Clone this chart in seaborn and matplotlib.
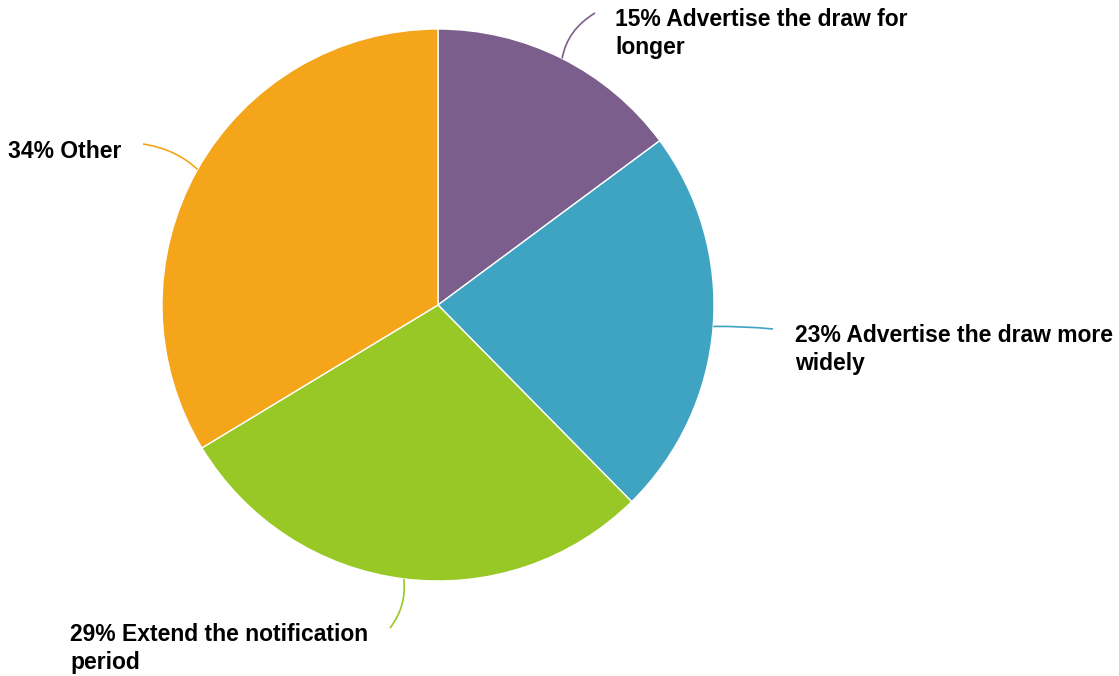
import numpy as np
import matplotlib
matplotlib.use("Agg")
import matplotlib.pyplot as plt
from matplotlib.path import Path
from matplotlib.patches import PathPatch
import seaborn as sns

# Survey responses
categories = ["Advertise the draw for\nlonger",
              "Advertise the draw more\nwidely",
              "Extend the notification\nperiod",
              "Other"]
shares = [15, 23, 29, 34]
colors = ["#7C5E8C", "#3FA3C2", "#97C826", "#F4A51A"]

sns.set_theme(style="white")
plt.rcParams["font.family"] = ["Liberation Sans", "DejaVu Sans"]

W, H = 1119, 676
fig = plt.figure(figsize=(W / 100, H / 100), dpi=100)
ax = fig.add_axes([0, 0, 1, 1])
ax.set_xlim(0, W)
ax.set_ylim(0, H)
ax.set_aspect("equal")
ax.axis("off")

cx, cy, r = 438, H - 305, 276
wedges, _ = ax.pie(shares, colors=colors, startangle=90, counterclock=False,
                   center=(cx, cy), radius=r,
                   wedgeprops=dict(edgecolor="white", linewidth=1))
ax.set_xlim(0, W)
ax.set_ylim(0, H)

# Label placement: text anchor (left, top), leader end point, bezier control point
label_pos = [(615, 8), (795, 324), (70, 623), (8, 140)]
leader_end = [(595, 13), (773, 329), (390, 628), (143, 144)]
leader_ctrl = [(567, 30), (743, 326), (407, 606), (176, 149)]

for w, cat, s, col, lp, le, lc in zip(wedges, categories, shares, colors,
                                      label_pos, leader_end, leader_ctrl):
    mid = np.deg2rad((w.theta1 + w.theta2) / 2)
    p0 = (cx + r * np.cos(mid), cy + r * np.sin(mid))
    p1 = (lc[0], H - lc[1])
    p2 = (le[0], H - le[1])
    path = Path([p0, p1, p2], [Path.MOVETO, Path.CURVE3, Path.CURVE3])
    ax.add_patch(PathPatch(path, facecolor="none", edgecolor=col, lw=1.2))
    ax.text(lp[0], H - lp[1], f"{s}% {cat}", ha="left", va="top",
            fontsize=16.5, fontweight="bold", color="black", linespacing=1.3)

fig.savefig("out.png", dpi=100, facecolor="white")
